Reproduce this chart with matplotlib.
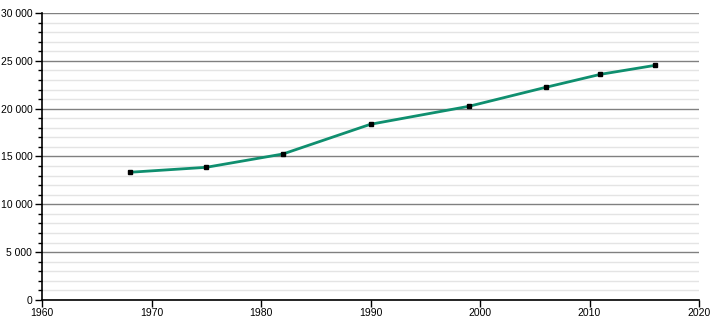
import matplotlib
matplotlib.use("Agg")
import matplotlib.pyplot as plt
from matplotlib.ticker import MultipleLocator, FuncFormatter

years = [1968, 1975, 1982, 1990, 1999, 2006, 2011, 2016]
population = [13350, 13870, 15260, 18370, 20250, 22230, 23590, 24530]

plt.rcParams['font.family'] = ['Liberation Sans', 'DejaVu Sans']

fig = plt.figure(figsize=(7.1, 3.2), dpi=100)
ax = fig.add_axes([42/710, 1 - 300/320, (699 - 42)/710, (300 - 13)/320])

ax.set_xlim(1960, 2020)
ax.set_ylim(0, 30000)
ax.xaxis.set_major_locator(MultipleLocator(10))
ax.yaxis.set_major_locator(MultipleLocator(5000))
ax.yaxis.set_minor_locator(MultipleLocator(1000))
ax.yaxis.set_major_formatter(FuncFormatter(lambda v, p: f"{int(v):,}".replace(",", " ")))

ax.grid(axis='y', which='major', color='#808080', linewidth=1)
ax.grid(axis='y', which='minor', color='#e4e4e4', linewidth=1)
ax.set_axisbelow(True)

for s in ['top', 'right']:
    ax.spines[s].set_visible(False)
ax.spines['left'].set_linewidth(1.2)
ax.spines['bottom'].set_linewidth(1.2)

ax.tick_params(axis='both', which='major', labelsize=7.5, length=5, width=1)
ax.tick_params(axis='x', which='major', pad=1)
ax.tick_params(axis='y', which='major', pad=2)
ax.tick_params(axis='y', which='minor', length=3, width=1)

ax.plot(years, population, color='#0f8f6f', linewidth=2, zorder=3)
ax.plot(years, population, 's', color='black', markersize=3.2, zorder=4)

fig.savefig("out.png", dpi=100)
